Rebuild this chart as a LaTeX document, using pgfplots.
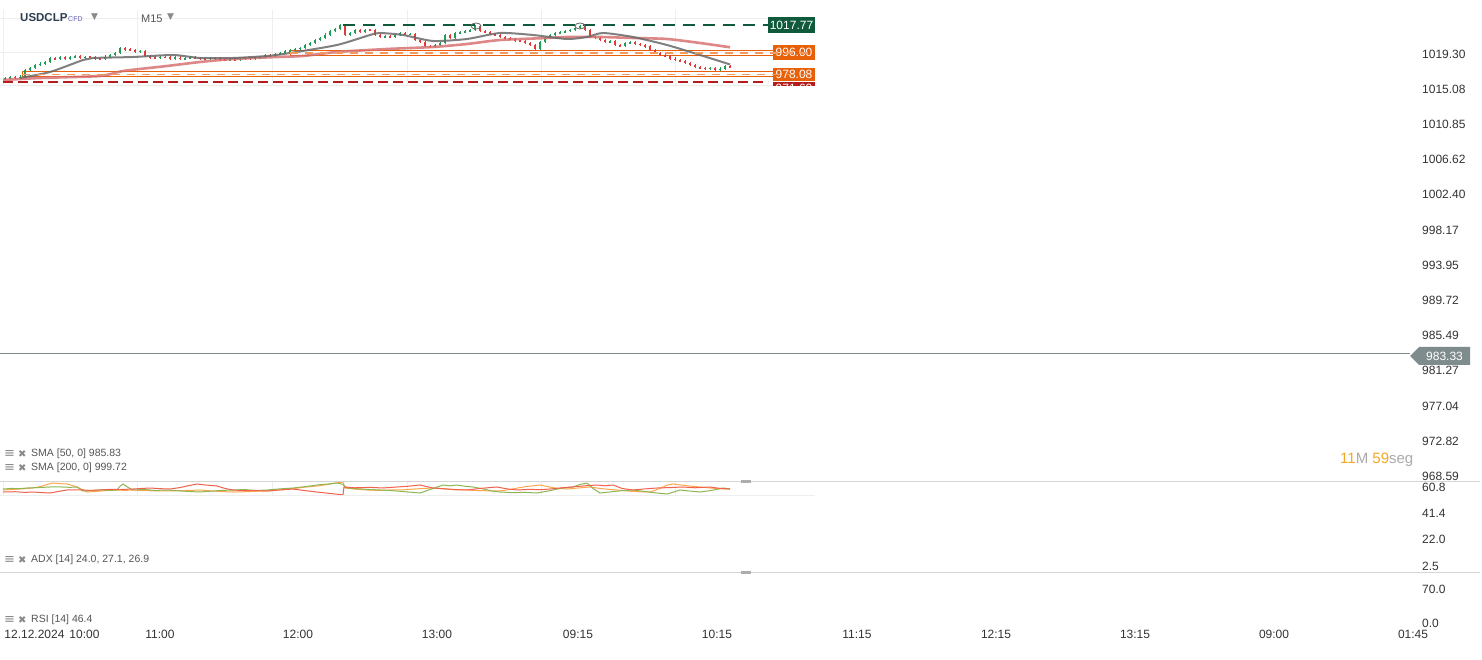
\documentclass[border=0pt]{standalone}
\usepackage{pgfplots}
\pgfplotsset{compat=1.18}
\usepackage{pgfplotstable}
\usepackage{fontspec}
\setmainfont{Liberation Sans}
\newfontfamily\dejavu{DejaVu Sans}
\definecolor{tickc}{HTML}{333333}
\definecolor{cup}{HTML}{1F9D55}
\definecolor{cdown}{HTML}{E53935}
\definecolor{dkgreen}{HTML}{0E5A3A}
\definecolor{zoneor}{HTML}{E8600A}
\definecolor{dashor}{HTML}{F39A5E}
\definecolor{dkred}{HTML}{B71C1C}
\definecolor{smafifty}{HTML}{6A6A6A}
\definecolor{smatwo}{HTML}{D66A6A}
\definecolor{adxor}{HTML}{FFA64D}
\definecolor{adxgr}{HTML}{8DB653}
\definecolor{adxrd}{HTML}{F0624D}
\definecolor{pricegray}{HTML}{7F8C8D}
\definecolor{legc}{HTML}{555555}
\definecolor{iconc}{HTML}{8A8A8A}
\definecolor{titlec}{HTML}{2C3E50}
\definecolor{cntor}{HTML}{F5A623}
\definecolor{cntgr}{HTML}{AAAAAA}
\definecolor{gridc}{HTML}{EEEEEE}
\definecolor{sepc}{HTML}{D5D5D5}
\newcommand\tickfont{\fontsize{12}{14}\selectfont}

\pgfplotstableread{
x o c
5 974.0 974.8
10 974.8 975.6
20 975.2 976.0
25 976.0 981.3
30 981.3 983.0
35 983.0 985.4
40 985.4 986.5
45 986.5 987.8
50 987.8 991.0
60 990.2 991.5
70 990.6 991.9
75 991.9 992.4
85 991.0 992.0
105 990.2 992.2
110 992.2 993.5
115 993.5 995.1
120 995.1 999.1
140 996.2 996.7
160 991.0 992.0
175 990.7 991.4
185 990.2 990.8
190 990.8 991.5
210 990.1 991.2
230 989.4 990.0
240 989.2 990.5
245 990.5 991.0
255 990.4 991.2
260 991.2 992.0
265 992.0 993.5
275 993.0 994.3
280 994.3 995.0
285 995.0 996.5
290 996.5 997.6
295 997.6 998.4
300 998.4 999.4
305 999.4 1001.6
310 1001.6 1003.2
315 1003.2 1005.6
320 1005.6 1007.0
325 1007.0 1010.0
330 1010.0 1012.9
335 1012.9 1014.5
340 1014.5 1017.6
350 1009.5 1011.0
355 1011.0 1013.4
365 1012.6 1014.0
385 1008.0 1008.9
395 1007.8 1009.6
400 1009.6 1011.3
410 1010.2 1010.6
435 1000.0 1001.5
440 1001.5 1003.5
445 1003.5 1009.6
455 1007.2 1011.2
460 1011.2 1012.1
465 1012.1 1012.8
470 1012.8 1013.7
475 1013.7 1016.6
540 998.4 1004.0
545 1004.0 1007.2
550 1007.2 1009.6
555 1009.6 1011.4
560 1011.4 1012.0
565 1012.0 1012.9
570 1012.9 1013.8
575 1013.8 1015.2
580 1015.2 1016.8
610 1004.0 1004.6
625 1000.8 1003.2
630 1003.2 1004.0
710 982.2 983.0
720 981.3 982.5
725 982.5 984.2
}\upcandles

\pgfplotstableread{
x o c
15 975.6 975.2
55 991.0 990.2
65 991.5 990.6
80 992.4 991.0
90 992.0 991.8
95 991.8 990.5
100 990.5 990.2
125 999.1 998.0
130 998.0 997.5
135 997.5 996.2
145 996.7 992.7
150 992.7 991.4
155 991.4 991.0
165 992.0 991.6
170 991.6 990.7
180 991.4 990.2
195 991.5 991.0
200 991.0 990.3
205 990.3 990.1
215 991.2 990.6
220 990.6 989.8
225 989.8 989.4
235 990.0 989.2
250 991.0 990.4
270 993.5 993.0
345 1017.6 1009.5
360 1013.4 1012.6
370 1014.0 1013.8
375 1013.8 1009.8
380 1009.8 1008.0
390 1008.9 1007.8
405 1011.3 1010.2
415 1010.6 1005.6
420 1005.6 1004.0
425 1004.0 1000.9
430 1000.9 1000.0
450 1009.6 1007.2
480 1016.6 1013.0
485 1013.0 1012.0
490 1012.0 1010.5
495 1010.5 1009.4
500 1009.4 1008.1
505 1008.1 1007.0
510 1007.0 1006.2
515 1006.2 1005.0
520 1005.0 1004.6
525 1004.6 1003.2
530 1003.2 1001.8
535 1001.8 998.4
585 1016.8 1013.6
590 1013.6 1008.0
595 1008.0 1007.5
600 1007.5 1005.6
605 1005.6 1004.0
615 1004.6 1001.5
620 1001.5 1000.8
635 1004.0 1002.4
640 1002.4 1001.6
645 1001.6 1000.4
650 1000.4 997.4
655 997.4 995.2
660 995.2 993.5
665 993.5 992.4
670 992.4 990.6
675 990.6 989.4
680 989.4 988.6
685 988.6 987.2
690 987.2 985.5
695 985.5 983.8
700 983.8 982.9
705 982.9 982.2
715 983.0 981.3
730 984.2 983.7
}\downcandles

\begin{document}
\begin{tikzpicture}[x=1pt,y=1pt]
\useasboundingbox (0,0) rectangle (1482,659);
\fill[white] (0,0) rectangle (1482,659);

% ---------- main price panel (right scale + current price line)
\begin{axis}[at={(0pt,659pt)}, anchor=north west, scale only axis,
  width=1410pt, height=481pt, xmin=0, xmax=1410, ymin=968.04, ymax=1025.78,
  axis line style={draw=none}, major tick length=0pt, xtick=\empty,
  ytick={968.59,972.82,977.04,981.27,985.49,989.72,993.95,998.17,1002.40,1006.62,1010.85,1015.08,1019.30},
  yticklabels={968.59,972.82,977.04,981.27,985.49,989.72,993.95,998.17,1002.40,1006.62,1010.85,1015.08,1019.30},
  yticklabel pos=right,
  yticklabel style={anchor=west, inner sep=0pt, xshift=12pt, font=\tickfont, text=tickc},
  clip=false]
\addplot[pricegray, line width=0.8pt] coordinates {(0,983.33) (1410,983.33)};
\end{axis}

% ---------- compressed price chart (top band)
\begin{axis}[at={(0pt,649pt)}, anchor=north west, scale only axis,
  width=815pt, height=75.5pt, xmin=0, xmax=815, ymin=968.77, ymax=1029.92,
  axis line style={draw=none}, major tick length=0pt,
  xtick={3,137,272,407,541,675}, xticklabels={},
  ytick={1023.44,995.90,969.20}, yticklabels={},
  xmajorgrids, ymajorgrids, grid style={gridc, line width=0.8pt}]
% zones
\draw[zoneor, line width=1pt] (axis cs:290,997.2) rectangle (axis cs:816,992.7);
\draw[zoneor, line width=1pt] (axis cs:22,979.7) rectangle (axis cs:816,975.7);
% candles
\addplot[draw=none, mark=none, forget plot, error bars/.cd, y dir=both, y explicit, error mark=none,
  error bar style={draw=cup, line width=0.6pt}]
  table[x=x, y expr={(\thisrow{o}+\thisrow{c})/2}, y error expr={abs(\thisrow{c}-\thisrow{o})/2+0.9}] {\upcandles};
\addplot[draw=none, mark=none, forget plot, error bars/.cd, y dir=both, y explicit, error mark=none,
  error bar style={draw=cup, line width=2.6pt}]
  table[x=x, y expr={(\thisrow{o}+\thisrow{c})/2}, y error expr={max(abs(\thisrow{c}-\thisrow{o})/2,0.45)}] {\upcandles};
\addplot[draw=none, mark=none, forget plot, error bars/.cd, y dir=both, y explicit, error mark=none,
  error bar style={draw=cdown, line width=0.6pt}]
  table[x=x, y expr={(\thisrow{o}+\thisrow{c})/2}, y error expr={abs(\thisrow{c}-\thisrow{o})/2+0.9}] {\downcandles};
\addplot[draw=none, mark=none, forget plot, error bars/.cd, y dir=both, y explicit, error mark=none,
  error bar style={draw=cdown, line width=2.6pt}]
  table[x=x, y expr={(\thisrow{o}+\thisrow{c})/2}, y error expr={max(abs(\thisrow{c}-\thisrow{o})/2,0.45)}] {\downcandles};
% SMA 200
\addplot[smatwo, opacity=0.8, line width=2.6pt, smooth, tension=0.4] coordinates {
(3,973.22) (40,974.84) (100,976.46) (123,980.51) (167,984.56) (200,987.80) (233,990.23)
(277,991.85) (303,992.66) (337,995.90) (387,998.33) (433,999.95) (467,1002.38) (500,1005.62)
(547,1007.24) (567,1008.05) (600,1008.05) (633,1007.24) (667,1006.43) (700,1003.19) (730,999.72)};
% SMA 50
\addplot[smafifty, opacity=0.85, line width=2pt, smooth, tension=0.4] coordinates {
(20,974.84) (50,979.70) (83,989.42) (93,991.04) (133,991.85) (173,993.47) (200,991.04)
(233,991.04) (267,992.66) (290,995.09) (337,1001.57) (370,1009.67) (380,1011.29) (403,1009.67)
(433,1004.81) (467,1006.43) (500,1011.29) (533,1009.67) (567,1006.43) (587,1008.05) (603,1011.29)
(633,1008.05) (667,1001.57) (700,993.47) (730,985.83)};
% level lines
\draw[dkred, line width=1.6pt, dash pattern=on 10pt off 5pt] (axis cs:3,971.6) -- (axis cs:768,971.6);
\draw[dkgreen, line width=1.6pt, dash pattern=on 12pt off 8pt] (axis cs:343,1017.77) -- (axis cs:768,1017.77);
% labels
\node[fill=dkgreen, text=white, minimum width=47pt, minimum height=16pt, inner sep=0pt, font=\tickfont] at (axis cs:791.5,1017.77) {1017.77};
\node[fill=zoneor, text=white, minimum width=42pt, minimum height=15pt, inner sep=0pt, font=\tickfont] at (axis cs:794,995.2) {996.00};
\node[fill=dkred, text=white, minimum width=42pt, minimum height=12pt, inner sep=0pt, font=\tickfont] at (axis cs:794,966.8) {971.60};
\node[fill=zoneor, text=white, minimum width=42pt, minimum height=13pt, inner sep=0pt, font=\tickfont] at (axis cs:794,977.7) {978.08};
\draw[dashor, line width=1.6pt, dash pattern=on 8pt off 7pt] (axis cs:290,995.2) -- (axis cs:815,995.2);
\draw[dashor, line width=1.6pt, dash pattern=on 8pt off 7pt] (axis cs:22,977.7) -- (axis cs:815,977.7);
% markers
\draw[smafifty, line width=0.8pt] (axis cs:476,1016.96) ellipse [x radius=5pt, y radius=3pt];
\draw[smafifty, line width=0.8pt] (axis cs:580,1016.96) ellipse [x radius=5pt, y radius=3pt];
\end{axis}

% ---------- ADX panel scale
\begin{axis}[at={(0pt,178pt)}, anchor=north west, scale only axis,
  width=1410pt, height=91pt, xmin=0, xmax=1410, ymin=-1.93, ymax=65.23,
  axis line style={draw=none}, major tick length=0pt, xtick=\empty,
  ytick={2.5,22.0,41.4,60.8}, yticklabels={2.5,22.0,41.4,60.8},
  yticklabel pos=right,
  yticklabel style={anchor=west, inner sep=0pt, xshift=12pt, font=\tickfont, text=tickc},
  clip=false]
\addplot[draw=none] coordinates {(0,0)};
\end{axis}

% ---------- ADX compressed lines
\begin{axis}[at={(0pt,178pt)}, anchor=north west, scale only axis,
  width=815pt, height=14pt, xmin=0, xmax=815, ymin=0, ymax=64,
  axis line style={draw=none}, major tick length=0pt,
  xtick={3,137,272,407,541,675}, xticklabels={}, ytick=\empty,
  xmajorgrids, grid style={gridc, line width=0.8pt}]
\addplot[adxor, line width=1pt] coordinates {
(3,22.9) (10,25) (18,27) (25,29) (33,32.0) (40,38) (47,48) (53,54.8) (60,52) (67,50.3) (72,44) (77,36.6)
(82,25) (87,13.7) (95,16) (105,20) (117,22.9) (125,21) (133,22.9) (145,20) (155,19) (167,18.3) (180,20)
(190,21) (200,22.9) (210,19) (220,16) (233,13.7) (245,15) (255,17) (267,18.3) (280,24) (295,30) (305,36)
(317,41.1) (328,48) (336,55) (343,59.4) (345,32.0) (355,27) (367,22.9) (380,21) (390,23) (400,22.9)
(410,26) (420,29) (433,32.0) (445,28) (455,24) (467,22.9) (480,20) (490,19) (500,18.3) (512,27) (525,38)
(540,45.7) (550,36) (558,30) (567,27.4) (578,32) (590,36.6) (600,30) (608,26) (617,22.9) (628,18) (638,15)
(650,13.7) (660,30) (667,45) (673,50.3) (680,46) (690,41) (700,36.6) (710,32) (720,29) (730,27.4)};
\addplot[adxgr, line width=1pt] coordinates {
(3,27.4) (12,30) (20,29) (27,32.0) (38,34) (50,36.6) (60,37) (70,35) (77,36.6) (83,18.3) (92,20) (100,24)
(110,21) (117,22.9) (120,40) (123,50.3) (128,35) (133,22.9) (145,25) (155,21) (167,22.9) (178,19) (190,16)
(200,13.7) (212,18) (222,21) (233,22.9) (245,25) (255,20) (267,22.9) (280,28) (293,32.0) (305,38) (317,45.7)
(327,50) (337,54.8) (342,50) (347,32.0) (360,28) (370,25) (380,22.9) (392,20) (405,15) (420,9.1) (430,25)
(443,45.7) (450,42) (457,45.7) (465,40) (473,36.6) (485,26) (492,18) (500,13.7) (512,11) (525,12) (537,9.1)
(550,20) (560,30) (573,36.6) (580,48) (587,54.8) (593,30) (600,9.1) (612,15) (622,20) (633,22.9) (645,16)
(655,10) (667,4.6) (674,14) (680,22.9) (690,18) (700,13.7) (710,20) (717,26) (723,32.0) (730,27.4)};
\addplot[adxrd, line width=1pt] coordinates {
(3,13.7) (15,15) (25,12) (33,13.7) (42,11) (50,9.1) (58,16) (67,22.9) (80,24) (90,21) (100,22.9) (110,26)
(120,25) (133,27.4) (142,30) (150,32.0) (160,29) (170,27.4) (180,34) (190,44) (197,50.3) (205,46) (217,41.1)
(225,30) (233,22.9) (245,20) (255,21) (267,18.3) (280,23) (293,27.4) (305,20) (317,13.7) (330,7) (343,1)
(344,36.6) (355,33) (370,35) (383,32.0) (395,36) (408,40) (420,45.7) (427,38) (433,32.0) (445,28) (455,25)
(467,22.9) (480,30) (490,34) (497,36.6) (507,28) (517,22.9) (530,26) (540,24) (550,27.4) (562,33) (575,38)
(585,42) (597,45.7) (605,42) (613,45.7) (622,30) (633,22.9) (645,28) (657,32.0) (670,34) (683,36.6)
(695,33) (710,36.6) (720,30) (730,27.4)};
\end{axis}

% ---------- RSI panel scale
\begin{axis}[at={(0pt,87pt)}, anchor=north west, scale only axis,
  width=1410pt, height=56pt, xmin=0, xmax=1410, ymin=-10.4, ymax=105,
  axis line style={draw=none}, major tick length=0pt, xtick=\empty,
  ytick={0,70}, yticklabels={0.0,70.0},
  yticklabel pos=right,
  yticklabel style={anchor=west, inner sep=0pt, xshift=12pt, font=\tickfont, text=tickc},
  clip=false]
\addplot[draw=none] coordinates {(0,0)};
\end{axis}

% ---------- time axis
\begin{axis}[at={(0pt,31pt)}, anchor=north west, scale only axis,
  width=1482pt, height=1pt, xmin=0, xmax=1482, ymin=0, ymax=1,
  axis line style={draw=none}, major tick length=0pt, ytick=\empty,
  xtick={52,160,298,437,578,717,857,996,1135,1274,1413},
  xticklabels={{12.12.2024\hspace{5pt}10:00},11:00,12:00,13:00,09:15,10:15,11:15,12:15,13:15,09:00,01:45},
  xticklabel style={anchor=north, inner sep=0pt, yshift=-1pt, font=\tickfont, text=tickc},
  clip=false]
\addplot[draw=none] coordinates {(0,0)};
\end{axis}

% ---------- separators and handles
\draw[sepc, line width=1pt] (0,178) -- (1480,178);
\draw[sepc, line width=1pt] (0,87) -- (1480,87);
\draw[gridc, line width=1pt] (0,164) -- (815,164);
\fill[iconc!70] (741,176.5) rectangle (751,179.5);
\fill[iconc!70] (741,85.5) rectangle (751,88.5);

% ---------- current price tag
\fill[pricegray] (1410,303) -- (1419,312) -- (1470,312) -- (1470,294) -- (1419,294) -- cycle;
\node[text=white, font=\tickfont, inner sep=0pt] at (1444.5,303) {983.33};

% ---------- title
\node[anchor=west, inner sep=0pt, text=titlec, font=\fontsize{11.5}{13}\selectfont\bfseries] at (20,641) {USDCLP};
\node[anchor=west, inner sep=0pt, text=iconc!70!blue, font=\fontsize{7}{8}\selectfont] at (68,640) {CFD};
\node[anchor=west, inner sep=0pt, text=iconc, font=\dejavu\fontsize{9}{10}\selectfont] at (91,642) {▼};
\node[anchor=west, inner sep=0pt, text=legc, font=\fontsize{11}{13}\selectfont] at (141,640) {M15};
\node[anchor=west, inner sep=0pt, text=iconc, font=\dejavu\fontsize{9}{10}\selectfont] at (167,642) {▼};

% ---------- indicator legends
\foreach \yy/\txt in {205/{SMA [50,\ 0] 985.83}, 191/{SMA [200,\ 0] 999.72}, 99/{ADX [14]\ 24.0,\ 27.1,\ 26.9}} {
  \node[anchor=west, inner sep=0pt, text=iconc, font=\dejavu\fontsize{13}{14}\selectfont] at (4,\yy) {≡};
  \node[anchor=west, inner sep=0pt, text=iconc, font=\dejavu\fontsize{10}{11}\selectfont] at (18,\yy) {✖};
  \node[anchor=west, inner sep=0pt, text=legc, font=\fontsize{10.5}{12}\selectfont] at (31,\yy) {\txt};
}
\node[anchor=west, inner sep=0pt, text=iconc, font=\dejavu\fontsize{13}{14}\selectfont] at (4,39) {≡};
\node[anchor=west, inner sep=0pt, text=iconc, font=\dejavu\fontsize{10}{11}\selectfont] at (18,39) {✖};
\node[anchor=west, inner sep=0pt, text=legc, font=\fontsize{10.5}{12}\selectfont] at (31,39) {RSI [14]\ 46.4};

% ---------- countdown
\node[anchor=west, inner sep=0pt, font=\fontsize{15}{17}\selectfont] at (1340,199)
  {\textcolor{cntor}{11}\textcolor{cntgr}{M} \textcolor{cntor}{59}\textcolor{cntgr}{seg}};
\end{tikzpicture}
\end{document}
